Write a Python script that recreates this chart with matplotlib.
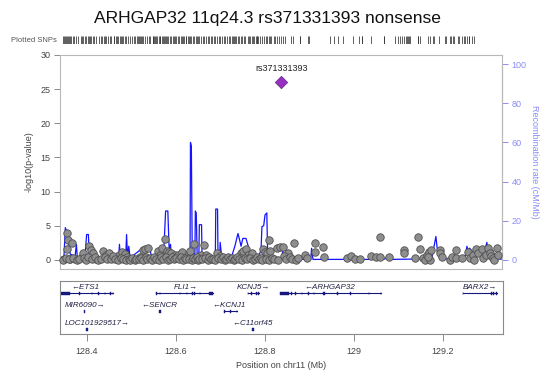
import matplotlib
matplotlib.use('Agg')
import matplotlib.pyplot as plt
from matplotlib.patches import Rectangle

plt.rcParams['font.family'] = ['Liberation Sans', 'DejaVu Sans']

# ---------------- data ----------------
title = "ARHGAP32 11q24.3 rs371331393 nonsense"

lead_pos = 128.839
lead_logp = 26.0
lead_name = "rs371331393"

snp_pos = [
    128.350, 128.355, 128.356, 128.359, 128.367, 128.363, 128.374, 128.389, 128.392, 128.406,
    128.409, 128.415, 128.421, 128.438, 128.444, 128.451, 128.468, 128.473, 128.479, 128.486,
    128.491, 128.520, 128.526, 128.531, 128.539, 128.561, 128.565, 128.569, 128.576, 128.580,
    128.585, 128.591, 128.599, 128.606, 128.614, 128.628, 128.634, 128.642, 128.657, 128.664,
    128.670, 128.693, 128.700, 128.747, 128.753, 128.759, 128.764, 128.772, 128.798, 128.802,
    128.807, 128.811, 128.814, 128.828, 128.835, 128.842, 128.854, 128.868,
    128.892, 128.897, 128.914, 128.914, 128.932, 128.935, 128.986, 128.995, 129.004, 129.017,
    129.040, 129.053, 129.061, 129.061, 129.082, 129.115, 129.115, 129.141, 129.147, 129.152,
    129.157, 129.162, 129.166, 129.172, 129.177, 129.173, 129.169, 129.196, 129.196, 129.200,
    129.218, 129.223, 129.232, 129.233, 129.245, 129.260, 129.263, 129.271, 129.273, 129.278,
    129.282, 129.290, 129.293, 129.301, 129.305, 129.308, 129.312, 129.316, 129.317, 129.324,
    129.328,
    128.347, 128.353, 128.361, 128.370, 128.378, 128.383, 128.395, 128.399, 128.402, 128.412,
    128.418, 128.425, 128.433, 128.441, 128.447, 128.455, 128.459, 128.463, 128.470, 128.477,
    128.483, 128.489, 128.495, 128.498, 128.503, 128.508, 128.512, 128.517, 128.523, 128.528,
    128.534, 128.536, 128.543, 128.548, 128.552, 128.556, 128.563, 128.567, 128.572, 128.578,
    128.583, 128.588, 128.593, 128.596, 128.602, 128.609, 128.612, 128.618, 128.622, 128.625,
    128.631, 128.637, 128.640, 128.645, 128.648, 128.651, 128.654, 128.660, 128.667, 128.673,
    128.676, 128.681, 128.685, 128.689, 128.696, 128.703, 128.707, 128.711, 128.715, 128.719,
    128.723, 128.727, 128.731, 128.735, 128.739, 128.743, 128.750, 128.756, 128.761, 128.768,
    128.775, 128.779, 128.783, 128.788, 128.792, 128.795, 128.804, 128.810, 128.818, 128.822,
    128.831, 128.845, 128.850, 128.858, 128.862, 128.872, 128.877,
]
snp_logp = [
    0.2, 1.6, 3.9, 2.9, 2.5, 0.2, 0.2, 0.5, 1.0, 2.0,
    1.5, 1.0, 0.2, 1.3, 0.8, 1.0, 0.4, 0.7, 1.1, 0.9,
    0.4, 0.5, 1.4, 1.6, 1.8, 1.3, 0.8, 1.7, 3.0, 1.3,
    1.1, 1.0, 0.8, 0.8, 1.1, 0.8, 1.3, 2.4, 0.8, 2.2,
    0.8, 1.0, 0.6, 1.0, 1.3, 1.6, 0.8, 1.0, 1.6, 1.1,
    1.0, 2.9, 1.3, 1.7, 1.95, 1.95, 1.0, 2.5,
    0.7, 0.25, 2.5, 1.2, 1.95, 0.4, 0.25, 0.6, 0.15, 0.1,
    0.6, 0.4, 0.4, 3.3, 0.4, 1.4, 1.0, 0.35, 3.4, 1.55,
    0.3, 0.0, 0.8, 1.2, 1.5, 0.0, 0.5, 1.5, 1.0, 0.5,
    0.0, 0.4, 1.5, 0.3, 0.3, 1.1, 0.3, 0.7, 0.0, 1.6,
    1.0, 1.6, 0.3, 0.8, 1.7, 1.0, 0.6, 0.3, 0.0, 1.7,
    0.8,
    0.0, 0.3, 0.1, 0.3, 0.0, 0.2, 0.3, 0.0, 0.4, 0.2,
    0.5, 0.0, 0.2, 0.4, 0.1, 0.2, 0.6, 0.1, 0.0, 0.3,
    0.1, 0.0, 0.2, 0.0, 0.3, 0.0, 0.2, 0.1, 0.3, 0.0,
    0.5, 0.1, 0.3, 0.0, 0.4, 0.1, 0.0, 0.5, 0.1, 0.4,
    0.0, 0.2, 0.5, 0.1, 0.3, 0.1, 0.4, 0.0, 0.3, 0.1,
    0.2, 0.0, 0.3, 0.1, 0.5, 0.0, 0.2, 0.1, 0.3, 0.0,
    0.4, 0.1, 0.2, 0.0, 0.3, 0.1, 0.4, 0.0, 0.2, 0.5,
    0.1, 0.3, 0.0, 0.2, 0.4, 0.1, 0.0, 0.3, 0.1, 0.3,
    0.0, 0.2, 0.5, 0.1, 0.3, 0.0, 0.2, 0.0, 0.3, 0.1,
    0.0, 0.6, 0.2, 0.4, 0.1, 0.0, 0.3,
]

rec_pos = [
    128.340, 128.349, 128.352, 128.356, 128.358, 128.360, 128.363, 128.374, 128.377, 128.379,
    128.396, 128.400, 128.404, 128.406, 128.430, 128.472, 128.474, 128.476, 128.488, 128.490,
    128.492, 128.495, 128.498, 128.520, 128.525, 128.538, 128.543, 128.547, 128.565, 128.574,
    128.578, 128.583, 128.586, 128.589, 128.591, 128.599, 128.610, 128.615, 128.622, 128.633,
    128.634, 128.636, 128.638, 128.644, 128.645, 128.647, 128.649, 128.653, 128.654, 128.659,
    128.660, 128.678, 128.690, 128.691, 128.695, 128.696, 128.700, 128.701, 128.704, 128.723,
    128.727, 128.734, 128.741, 128.745, 128.748, 128.752, 128.759, 128.763, 128.768, 128.772,
    128.786, 128.793, 128.795, 128.799, 128.802, 128.806, 128.808, 128.813, 128.824, 128.840,
    128.842, 128.844, 128.905, 128.907, 128.910, 129.038, 129.047, 129.049, 129.072, 129.079,
    129.083, 129.151, 129.162, 129.167, 129.169, 129.178, 129.187, 129.191, 129.196, 129.207,
    129.252, 129.257, 129.259, 129.263, 129.270, 129.277, 129.281, 129.286, 129.297, 129.302,
    129.304, 129.308, 129.315, 129.320, 129.331, 129.335,
]
rec_rate = [
    1, 2, 16.5, 14, 10, 8, 3, 2, 8, 1,
    1, 13, 13, 2, 0.5, 0.5, 8, 1, 1, 13,
    2, 7, 1, 5, 4, 5, 5, 1, 1, 5,
    25, 25, 5, 8, 1, 1, 2, 3, 1, 1,
    60, 58, 3, 3, 25, 24, 3, 3, 18, 18,
    2, 1, 1, 26, 26, 3, 3, 9, 2, 1,
    2, 7, 13.5, 10, 7, 11, 11, 8, 4, 1,
    1, 5, 17, 17.5, 23, 24, 3, 1, 0.5, 0.5,
    5, 0.5, 0.3, 6, 0.3, 0.3, 1, 0.3, 0.5, 2,
    0.3, 0.5, 2, 5, 0.5, 1, 12, 4, 1, 0.5,
    0.5, 7, 5, 6, 4, 4, 6, 2, 5, 9,
    3, 1, 5, 1, 0.5, 0.5,
]

gene_names = ["ETS1", "FLI1", "KCNJ5", "ARHGAP32", "BARX2",
              "MIR6090", "SENCR", "KCNJ1", "LOC101929517", "C11orf45"]
gene_start = [128.340, 128.556, 128.762, 128.835, 129.245,
              128.394, 128.563, 128.709, 128.399, 128.772]
gene_end = [128.460, 128.684, 128.787, 129.062, 129.323,
            128.395, 128.566, 128.738, 128.402, 128.776]
gene_strand = ["-", "+", "+", "-", "+", "+", "-", "-", "+", "-"]
gene_row = [1, 1, 1, 1, 1, 2, 2, 2, 3, 3]
gene_label_x = [128.397, 128.623, 128.775, 128.947, 129.285,
                128.396, 128.563, 128.721, 128.423, 128.773]
gene_exons = [
    [(128.340, 128.362), (128.383, 128.384), (128.411, 128.412), (128.426, 128.427),
     (128.441, 128.442), (128.453, 128.454), (128.459, 128.460)],
    [(128.556, 128.557), (128.564, 128.565), (128.609, 128.610), (128.625, 128.626),
     (128.637, 128.638), (128.642, 128.643), (128.654, 128.655), (128.676, 128.684)],
    [(128.762, 128.763), (128.769, 128.771), (128.781, 128.783), (128.786, 128.787)],
    [(128.835, 128.854), (128.860, 128.861), (128.869, 128.870), (128.884, 128.885),
     (128.898, 128.899), (128.910, 128.911), (128.931, 128.935), (128.963, 128.964),
     (128.993, 128.994), (129.034, 129.035), (129.061, 129.062)],
    [(129.245, 129.246), (129.310, 129.312), (129.314, 129.316), (129.320, 129.323)],
    [(128.394, 128.395)],
    [(128.563, 128.566)],
    [(128.709, 128.711), (128.722, 128.724), (128.737, 128.738)],
    [(128.399, 128.402)],
    [(128.772, 128.776)],
]

x_ticks = [128.4, 128.6, 128.8, 129.0, 129.2]
x_tick_labels = ["128.4", "128.6", "128.8", "129", "129.2"]
left_ticks = [0, 5, 10, 15, 20, 25, 30]
right_ticks = [0, 20, 40, 60, 80, 100]

# ---------------- layout ----------------
W, H = 550, 376
fig = plt.figure(figsize=(W / 100, H / 100), dpi=100)


def rect(l, t, r, b):
    return [l / W, 1 - b / H, (r - l) / W, (b - t) / H]


XLIM = (128.340, 129.336)
GRAY = '#8a8a8a'
TXT = '#444444'
RBLUE = '#8c8cf5'
NAVY = '#16167f'

ax = fig.add_axes(rect(60, 55, 502, 269))
ax2 = ax.twinx()
ax.set_zorder(ax2.get_zorder() + 1)
ax.patch.set_visible(False)

ax.set_xlim(XLIM)
ax.set_ylim(-1.32, 30)
ax2.set_ylim(-4.6, 104.6)

# recombination line
ax2.plot(rec_pos, rec_rate, color='#1414ff', lw=0.9, zorder=1)

# SNPs
ax.scatter(snp_pos, snp_logp, s=29, facecolor='#8e8e8e', edgecolor='#505050',
           linewidth=0.6, zorder=3, clip_on=False)
ax.scatter([lead_pos], [lead_logp], s=40, marker='D', facecolor='#9530c0',
           edgecolor='#6a1f8a', linewidth=0.5, zorder=4)
ax.text(lead_pos, lead_logp + 1.3, lead_name, ha='center', va='bottom',
        fontsize=6.5, color='#222222')

for sp in ['top', 'bottom', 'right', 'left']:
    ax.spines[sp].set_color('#b8b8b8')
    ax.spines[sp].set_linewidth(0.8)
    ax2.spines[sp].set_visible(False)
ax.set_xticks([])
ax.set_yticks(left_ticks)
ax.tick_params(axis='y', labelsize=6.5, colors=TXT, length=4, width=0.7, color=GRAY, pad=3)
ax.set_ylabel('-log10(p-value)', fontsize=6.5, color=TXT, labelpad=5)

ax2.set_yticks(right_ticks)
ax2.tick_params(axis='y', labelsize=6.5, colors=RBLUE, length=4, width=0.7, color=RBLUE, pad=3)
ax2.spines['right'].set_visible(True)
ax2.spines['right'].set_color(RBLUE)
ax2.spines['right'].set_bounds(0, 100)
ax2.set_ylabel('Recombination rate (cM/Mb)', fontsize=6.5, color=RBLUE, rotation=270,
               labelpad=9)

# title
fig.text(268 / W, 1 - 18 / H, title, ha='center', va='center', fontsize=12.6, color='#111111')

# rug of plotted SNPs
rug = fig.add_axes(rect(60, 36, 477, 44))
rug.set_xlim(XLIM)
rug.set_ylim(0, 1)
rug.vlines(snp_pos + [lead_pos], 0, 1, color='#333333', lw=0.55)
rug.axis('off')
fig.text(57 / W, 1 - 40 / H, 'Plotted SNPs', ha='right', va='center', fontsize=5.5, color='#555555')

# gene panel
gax = fig.add_axes(rect(60, 281, 503, 334))
gax.set_xlim(XLIM)
gax.set_ylim(53, 0)
for i, name in enumerate(gene_names):
    ly = 12.3 + (gene_row[i] - 1) * 18
    if gene_end[i] - gene_start[i] > 0.005:
        gax.plot([gene_start[i], gene_end[i]], [ly, ly], color=NAVY, lw=0.8)
    for (es, ee) in gene_exons[i]:
        w = max(ee - es, 0.0012)
        gax.add_patch(Rectangle((es, ly - 1.8), w, 3.6, facecolor=NAVY, edgecolor=NAVY, lw=0.3))
    lab = ('\u2190' + name) if gene_strand[i] == '-' else (name + '\u2192')
    gax.text(gene_label_x[i], ly - 6.2, lab, ha='center', va='center', fontsize=5.8,
             style='italic', color='#222244')
for sp in gax.spines.values():
    sp.set_color('#8a8a8a')
    sp.set_linewidth(0.8)
gax.set_yticks([])
gax.set_xticks(x_ticks)
gax.set_xticklabels(x_tick_labels)
gax.tick_params(axis='x', labelsize=6.5, colors=TXT, length=5, width=0.7, color=GRAY, pad=4)
fig.text(281 / W, 1 - 365 / H, 'Position on chr11 (Mb)', ha='center', va='center',
         fontsize=6.5, color=TXT)

fig.savefig('out.png', dpi=100)
